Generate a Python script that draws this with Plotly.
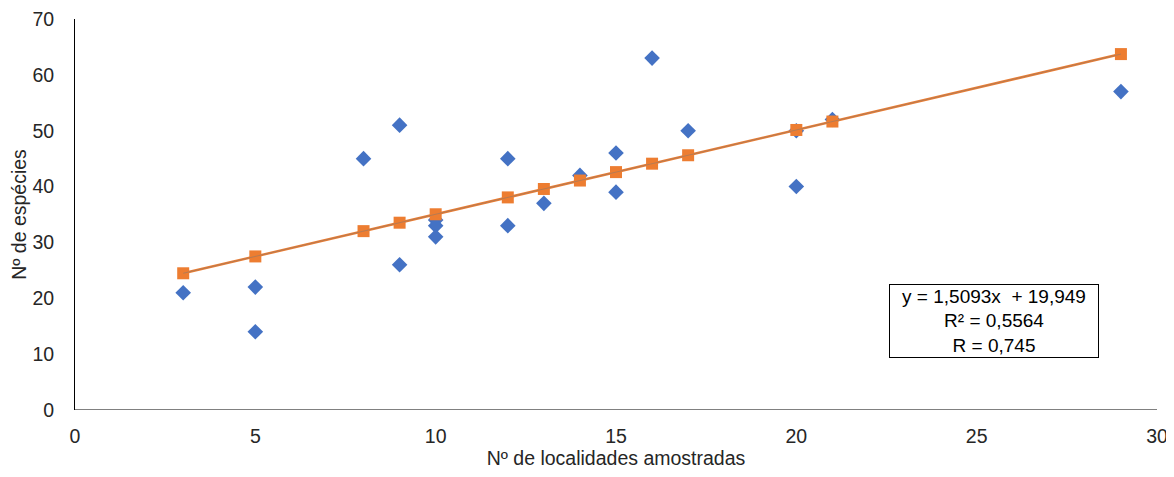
import plotly.graph_objects as go

# Observed data
localidades = [3, 5, 5, 8, 9, 9, 10, 10, 10, 12, 12, 13, 14, 15, 15, 16, 17, 20, 20, 21, 29]
especies = [21, 22, 14, 45, 51, 26, 34, 33, 31, 45, 33, 37, 42, 46, 39, 63, 50, 50, 40, 52, 57]

# Linear trend (as stated on chart)
slope = 1.5093
intercept = 19.949
r2_text = "0,5564"
r_text = "0,745"

x_fit = sorted(set(localidades))
y_fit = [slope * x + intercept for x in x_fit]

x_ticks = [0, 5, 10, 15, 20, 25, 30]
y_ticks = [0, 10, 20, 30, 40, 50, 60, 70]

TXT = "#262626"
FONT = "Liberation Sans, Arial"
FS = 19.5

fig = go.Figure()
fig.add_trace(go.Scatter(
    x=localidades, y=especies, mode="markers",
    marker=dict(symbol="diamond", size=12, color="#4472C4"),
    showlegend=False,
))
fig.add_trace(go.Scatter(
    x=x_fit, y=y_fit, mode="lines+markers",
    line=dict(color="#ED7D31", width=2.5),
    marker=dict(symbol="square", size=12, color="#ED7D31"),
    showlegend=False,
))
fig.add_trace(go.Scatter(
    x=[x_fit[0], x_fit[-1]], y=[y_fit[0], y_fit[-1]], mode="lines",
    line=dict(color="rgba(120,120,120,0.6)", width=0.8),
    showlegend=False, hoverinfo="skip",
))

fig.add_annotation(
    xref="paper", yref="paper", x=0.849, y=0.228,
    text=f"y = 1,5093x  + 19,949<br>R² = {r2_text}<br>R = {r_text}",
    showarrow=False, align="center", width=204, height=68,
    font=dict(family=FONT, size=19, color="#000000"),
    bordercolor="#000000", borderwidth=1, borderpad=2,
    bgcolor="#FFFFFF", xanchor="center", yanchor="middle",
)

fig.update_layout(
    width=1164, height=461,
    margin=dict(l=67, r=15, t=11, b=59),
    paper_bgcolor="white", plot_bgcolor="white",
    font=dict(family=FONT, size=FS, color=TXT),
    xaxis=dict(
        range=[0, 30], tickvals=x_ticks, showgrid=False, zeroline=False,
        showline=False, ticks="outside", ticklen=9, tickcolor="rgba(0,0,0,0)",
        automargin=False, ticklabeloverflow="allow",
        title=dict(text="Nº de localidades amostradas", font=dict(size=FS, color=TXT), standoff=12),
        tickfont=dict(size=FS, color=TXT),
    ),
    yaxis=dict(
        range=[0, 70], tickvals=y_ticks, showgrid=False, zeroline=False,
        showline=True, linecolor="#000000", linewidth=1,
        ticks="outside", ticklen=16, tickcolor="rgba(0,0,0,0)",
        automargin=False, ticklabeloverflow="allow",
        title=dict(text="Nº de espécies", font=dict(size=FS, color=TXT), standoff=4),
        tickfont=dict(size=FS, color=TXT),
    ),
    shapes=[dict(type="line", xref="paper", yref="y", x0=0, x1=1, y0=0, y1=0,
                 line=dict(color="#000000", width=1), layer="below")],
)

fig.write_html("out.html")
